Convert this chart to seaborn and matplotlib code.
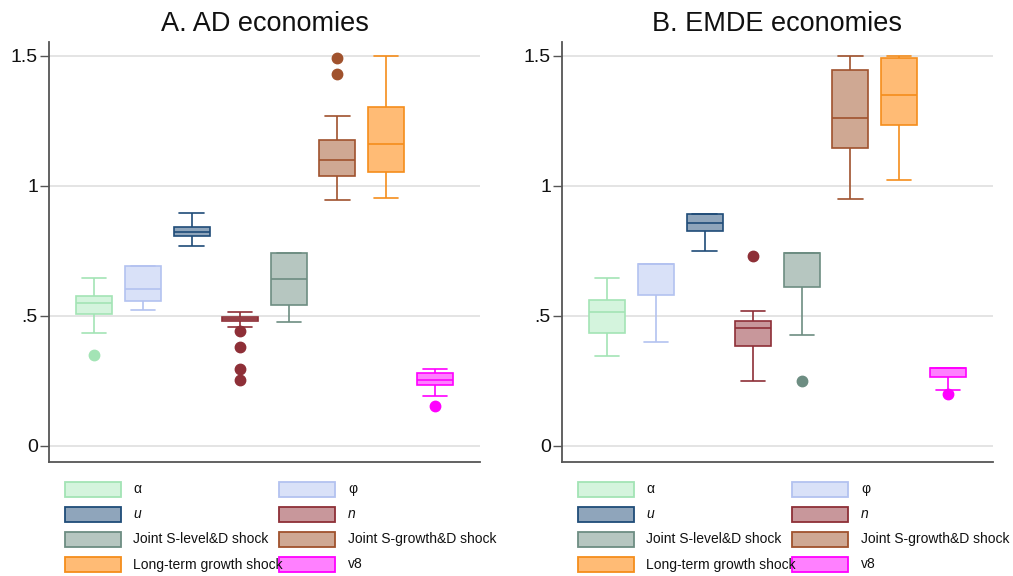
import numpy as np
import pandas as pd
import matplotlib
matplotlib.use("Agg")
import matplotlib.pyplot as plt
from matplotlib.patches import Rectangle
import seaborn as sns

# Series shown in each panel (same order left to right)
labels = ["α", "φ", "u", "n", "Joint S-level&D shock", "Joint S-growth&D shock",
          "Long-term growth shock", "v8"]
italic_labels = {"u", "n"}
edge_colors = ["#a3e4b5", "#b3c2f0", "#1f4c78", "#8e2f37", "#6d8d82", "#a0522d",
               "#f58d1b", "#ff00ff"]
fill_colors = ["#d4f4dd", "#d9e1f8", "#8fa5bb", "#c8979b", "#b6c6c0", "#cfa893",
               "#ffbb75", "#ff80ff"]

# A. AD economies: box-plot summaries per series
ad_lo = [0.435, 0.522, 0.770, 0.458, 0.476, 0.946, 0.955, 0.190]
ad_q1 = [0.508, 0.558, 0.806, 0.480, 0.540, 1.037, 1.052, 0.235]
ad_med = [0.551, 0.604, 0.824, 0.487, 0.640, 1.098, 1.160, 0.253]
ad_q3 = [0.575, 0.693, 0.843, 0.495, 0.743, 1.176, 1.302, 0.278]
ad_hi = [0.647, 0.693, 0.895, 0.513, 0.743, 1.269, 1.499, 0.296]
ad_out = [[0.347], [], [], [0.443, 0.379, 0.296, 0.251], [], [1.430, 1.494], [], [0.154]]

# B. EMDE economies
em_lo = [0.346, 0.400, 0.749, 0.247, 0.427, 0.950, 1.023, 0.215]
em_q1 = [0.433, 0.578, 0.827, 0.382, 0.609, 1.145, 1.235, 0.264]
em_med = [0.513, 0.700, 0.857, 0.452, 0.743, 1.260, 1.351, 0.298]
em_q3 = [0.562, 0.700, 0.893, 0.478, 0.743, 1.445, 1.492, 0.298]
em_hi = [0.647, 0.700, 0.893, 0.517, 0.743, 1.499, 1.500, 0.298]
em_out = [[], [], [], [0.730], [0.247], [], [], [0.197]]

titles = ["A. AD economies", "B. EMDE economies"]
yticks = [0, 0.5, 1, 1.5]
ytick_labels = ["0", ".5", "1", "1.5"]


def observations(lo, q1, med, q3, hi, outs):
    """Expand a five-number summary (plus outside values) into 4m+1 sorted
    observations whose quartiles and adjacent values reproduce it."""
    low_out = sorted(v for v in outs if v < q1)
    high_out = sorted(v for v in outs if v > q3)
    m = max(len(low_out), len(high_out)) + 1
    return (low_out + [lo] + [q1] * (m - len(low_out)) + [med] * m + [q3] * m
            + [q3] * (m - len(high_out) - 1) + [hi] + high_out)


rows = []
for panel, stats in zip(titles, [(ad_lo, ad_q1, ad_med, ad_q3, ad_hi, ad_out),
                                 (em_lo, em_q1, em_med, em_q3, em_hi, em_out)]):
    for i, lab in enumerate(labels):
        vals = observations(*(s[i] for s in stats))
        rows += [{"panel": panel, "series": lab, "value": v} for v in vals]
df = pd.DataFrame(rows)

sns.set_theme(style="white")
plt.rcParams["font.family"] = ["Liberation Sans", "DejaVu Sans"]

W, H = 1013, 576
fig = plt.figure(figsize=(W / 100, H / 100), dpi=100)
ax_left_px = [49, 562]
ax_top, ax_bottom, ax_w = 41.7, 462.0, 431.0

for k, panel in enumerate(titles):
    x0 = ax_left_px[k]
    ax = fig.add_axes([x0 / W, 1 - ax_bottom / H, ax_w / W, (ax_bottom - ax_top) / H])
    sub = df[df.panel == panel]
    for lab, ec, fc in zip(labels, edge_colors, fill_colors):
        sns.boxplot(data=sub[sub.series == lab], x="series", y="value", order=labels,
                    color=fc, linecolor=ec, saturation=1, width=0.74, linewidth=1.2,
                    whis=1.5, fliersize=7.5, capwidths=0.5,
                    flierprops=dict(marker="o", markerfacecolor=ec, markeredgecolor=ec),
                    ax=ax)
    ax.set_xlim(-0.93, 7.93)
    ax.set_ylim(-0.063, 1.555)
    ax.set_xticks([])
    ax.set_xlabel("")
    ax.set_ylabel("")
    ax.set_yticks(yticks)
    ax.set_yticklabels(ytick_labels)
    ax.set_axisbelow(True)
    ax.yaxis.grid(True, color="#e2e2e2", linewidth=1.3)
    ax.tick_params(axis="y", left=True, length=6.5, width=1.0, color="#555555",
                   labelsize=14, labelcolor="#111111", pad=1.5)
    for side in ["top", "right"]:
        ax.spines[side].set_visible(False)
    for side in ["left", "bottom"]:
        ax.spines[side].set_color("#555555")
        ax.spines[side].set_linewidth(1.3)
    ax.set_title(panel, fontsize=19.5, color="#111111", pad=8)

    # Two-column key under the panel (row-major order)
    row_y = [489, 514, 539, 564.5]
    for i, (lab, ec, fc) in enumerate(zip(labels, edge_colors, fill_colors)):
        r, c = divmod(i, 2)
        sx = x0 + (16 if c == 0 else 230)
        tx = x0 + (84 if c == 0 else 299)
        yc = row_y[r]
        fig.add_artist(Rectangle((sx / W, 1 - (yc + 7.5) / H), 56 / W, 15 / H,
                                 transform=fig.transFigure, facecolor=fc,
                                 edgecolor=ec, linewidth=1.3))
        fig.text(tx / W, 1 - yc / H, lab, fontsize=10, color="#111111", va="center",
                 ha="left", style="italic" if lab in italic_labels else "normal")

fig.savefig("out.png", dpi=100)
